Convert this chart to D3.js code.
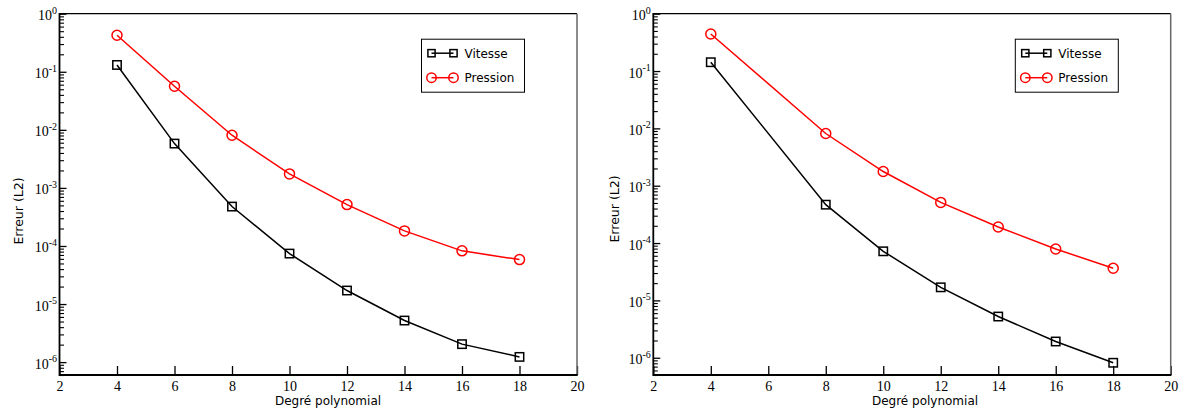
<!DOCTYPE html>
<html><head><meta charset="utf-8">
<script src="https://cdn.jsdelivr.net/npm/d3@7"></script>
<style>body{margin:0;background:#fff}svg{display:block}</style>
</head><body>
<svg id="c" width="1188" height="413"></svg>
<script>
const xTickValues = [2,4,6,8,10,12,14,16,18,20];
const yExponents = [0,-1,-2,-3,-4,-5,-6];
const seriesNames = ["Vitesse","Pression"];
const seriesColors = ["#000000","#ff0000"];

const degreesLeft = [4,6,8,10,12,14,16,18];
const vitesseLeft = [0.131,0.0058,4.77e-4,7.4e-5,1.71e-5,5.2e-6,2.04e-6,1.23e-6];
const pressionLeft = [0.425,0.0563,0.00807,0.00174,5.16e-4,1.82e-4,8.24e-5,5.83e-5];

const degreesRight = [4,8,10,12,14,16,18];
const vitesseRight = [0.1425,4.67e-4,7.18e-5,1.69e-5,5.23e-6,1.92e-6,8.17e-7];
const pressionRight = [0.443,0.00814,0.00177,5.12e-4,1.91e-4,7.89e-5,3.63e-5];

const panels = [
  {x0:59.5, x1:577, yMin:6e-7, deg:degreesLeft, v:vitesseLeft, p:pressionLeft, titleX:328, ylabX:18, ylabY:211},
  {x0:653.3, x1:1170.7, yMin:5e-7, deg:degreesRight, v:vitesseRight, p:pressionRight, titleX:925, ylabX:614.5, ylabY:209}
];
const plotTop = 13.7, plotBottom = 375;
const svg = d3.select("#c");
svg.append("rect").attr("width",1188).attr("height",413).attr("fill","#fff");

panels.forEach(P => {
  const x = d3.scaleLinear().domain([2,20]).range([P.x0,P.x1]);
  const y = d3.scaleLog().domain([P.yMin,1]).range([plotBottom,plotTop]);
  const g = svg.append("g");

  // x axis ticks (inward) and labels
  const xa = g.append("g").attr("transform",`translate(0,${plotBottom})`)
    .call(d3.axisBottom(x).tickValues(xTickValues).tickSize(-9).tickSizeOuter(0).tickPadding(6).tickFormat(d3.format("d")));
  xa.select(".domain").remove();
  xa.selectAll("line").attr("stroke","#000").attr("stroke-width",1.3);
  xa.selectAll("text").attr("font-family","'Liberation Serif', 'DejaVu Serif', serif").attr("font-size",14).attr("fill","#000");

  // y minor ticks
  const minors = [];
  for (let e=-7; e<0; e++) for (let m=2; m<=9; m++) { const v = m*Math.pow(10,e); if (v>=P.yMin && v<1) minors.push(v); }
  const ym = g.append("g").attr("transform",`translate(${P.x0},0)`)
    .call(d3.axisLeft(y).tickValues(minors).tickSize(-4.5).tickSizeOuter(0).tickFormat(""));
  ym.select(".domain").remove();
  ym.selectAll("line").attr("stroke","#000").attr("stroke-width",1.1);
  // y major ticks
  const majors = yExponents.map(e=>Math.pow(10,e));
  const yM = g.append("g").attr("transform",`translate(${P.x0},0)`)
    .call(d3.axisLeft(y).tickValues(majors).tickSize(-7).tickSizeOuter(0).tickFormat(""));
  yM.select(".domain").remove();
  yM.selectAll("line").attr("stroke","#000").attr("stroke-width",1.3);
  // y labels with superscripts
  yExponents.forEach(e => {
    const t = g.append("text").attr("x",P.x0-2.5).attr("y",y(Math.pow(10,e))+6.5)
      .attr("text-anchor","end").attr("font-family","'Liberation Serif', 'DejaVu Serif', serif")
      .attr("font-size",14).attr("fill","#000");
    t.append("tspan").text("10");
    t.append("tspan").attr("font-size",10).attr("dy",-6.5).text(String(e));
  });

  // frame
  g.append("line").attr("x1",P.x0).attr("x2",P.x1).attr("y1",plotTop).attr("y2",plotTop).attr("stroke","#000").attr("stroke-width",1.3);
  g.append("line").attr("x1",P.x1).attr("x2",P.x1).attr("y1",plotTop).attr("y2",plotBottom).attr("stroke","#666").attr("stroke-width",1.5);
  g.append("line").attr("x1",P.x0).attr("x2",P.x0).attr("y1",plotTop-0.6).attr("y2",plotBottom+1).attr("stroke","#000").attr("stroke-width",1.8);
  g.append("line").attr("x1",P.x0).attr("x2",P.x1+0.7).attr("y1",plotBottom).attr("y2",plotBottom).attr("stroke","#000").attr("stroke-width",1.8);

  // series
  const line = d3.line().x(d=>x(d[0])).y(d=>y(d[1]));
  const vData = P.deg.map((d,i)=>[d,P.v[i]]);
  const pData = P.deg.map((d,i)=>[d,P.p[i]]);
  g.append("path").datum(vData).attr("d",line).attr("fill","none").attr("stroke",seriesColors[0]).attr("stroke-width",1.5);
  g.append("path").datum(pData).attr("d",line).attr("fill","none").attr("stroke",seriesColors[1]).attr("stroke-width",1.5);
  g.selectAll(null).data(vData).enter().append("rect")
    .attr("x",d=>x(d[0])-4.2).attr("y",d=>y(d[1])-4.2).attr("width",8.4).attr("height",8.4)
    .attr("fill","none").attr("stroke",seriesColors[0]).attr("stroke-width",1.5);
  g.selectAll(null).data(pData).enter().append("circle")
    .attr("cx",d=>x(d[0])).attr("cy",d=>y(d[1])).attr("r",5)
    .attr("fill","none").attr("stroke",seriesColors[1]).attr("stroke-width",1.5);

  // legend
  const lx = P.x0+362, ly = 39.2, lw = 103, lh = 53;
  g.append("rect").attr("x",lx).attr("y",ly).attr("width",lw).attr("height",lh).attr("fill","#fff").attr("stroke","#000").attr("stroke-width",1);
  const rows = [ly+14, ly+38.5];
  rows.forEach((ry,i) => {
    g.append("line").attr("x1",lx+10).attr("x2",lx+32).attr("y1",ry).attr("y2",ry).attr("stroke",seriesColors[i]).attr("stroke-width",1.5);
    [lx+10, lx+32].forEach(cx => {
      if (i===0) g.append("rect").attr("x",cx-3.6).attr("y",ry-3.6).attr("width",7.2).attr("height",7.2).attr("fill","none").attr("stroke",seriesColors[i]).attr("stroke-width",1.5);
      else g.append("circle").attr("cx",cx).attr("cy",ry).attr("r",4.7).attr("fill","none").attr("stroke",seriesColors[i]).attr("stroke-width",1.5);
    });
    g.append("text").attr("x",lx+43).attr("y",ry+4.5).attr("font-family","'DejaVu Sans', sans-serif").attr("font-size",12).attr("fill","#000").text(seriesNames[i]);
  });

  // axis titles
  g.append("text").attr("x",P.titleX).attr("y",404.5).attr("text-anchor","middle")
    .attr("font-family","'DejaVu Sans', sans-serif").attr("font-size",12).attr("fill","#000").text("Degré polynomial");
  g.append("text").attr("transform",`translate(${P.ylabX+4.5},${P.ylabY}) rotate(-90)`).attr("text-anchor","middle")
    .attr("font-family","'DejaVu Sans', sans-serif").attr("font-size",12.5).attr("fill","#000").text("Erreur (L2)");
});
</script>
</body></html>
